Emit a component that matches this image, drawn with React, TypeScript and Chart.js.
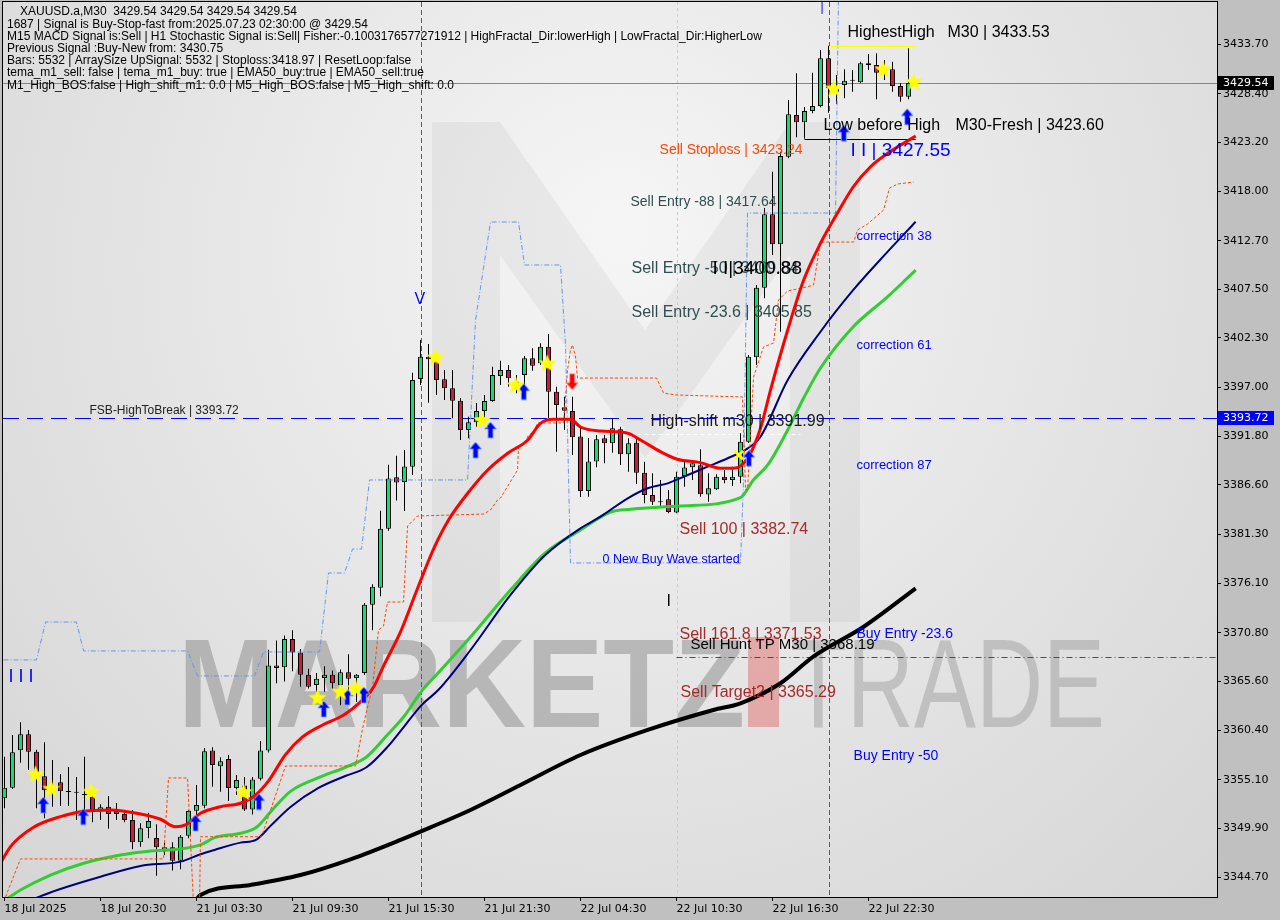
import React, { useEffect, useRef } from 'react';
import { Chart, registerables } from 'chart.js';

Chart.register(...registerables);

// ---------------- data ----------------
const xTickIndex = [0, 12, 24, 36, 48, 60, 72, 84, 96, 108];
const xTickLabels = ['18 Jul 2025', '18 Jul 20:30', '21 Jul 03:30', '21 Jul 09:30', '21 Jul 15:30', '21 Jul 21:30', '22 Jul 04:30', '22 Jul 10:30', '22 Jul 16:30', '22 Jul 22:30'];
const yTickValues = [3344.70, 3349.90, 3355.10, 3360.40, 3365.60, 3370.80, 3376.10, 3381.30, 3386.60, 3391.80, 3397.00, 3402.30, 3407.50, 3412.70, 3418.00, 3423.20, 3428.40, 3433.70];

const opens = [
  3353.12, 3354.25, 3358.25, 3359.96, 3358.10, 3355.47, 3353.80, 3354.83, 3353.85, 3353.74,
  3353.52, 3353.29, 3351.79, 3352.22, 3351.79, 3351.44, 3350.80, 3348.42, 3349.94, 3348.88,
  3347.60, 3347.88, 3346.45, 3349.12, 3351.79, 3352.33, 3358.22, 3356.54, 3357.32, 3354.22,
  3354.48, 3351.92, 3355.20, 3358.22, 3367.31, 3367.13, 3370.15, 3368.70, 3366.33, 3365.23,
  3365.96, 3366.33, 3365.23, 3366.58, 3365.96, 3366.51, 3373.80, 3375.62, 3381.93, 3387.41,
  3386.92, 3388.55, 3397.93, 3400.30, 3400.02, 3397.89, 3396.92, 3395.60, 3392.47, 3393.29,
  3394.50, 3395.57, 3398.24, 3398.88, 3397.63, 3398.34, 3400.13, 3399.59, 3401.37, 3396.56,
  3394.89, 3394.50, 3391.77, 3385.95, 3389.10, 3391.58, 3391.05, 3392.54, 3389.87, 3391.11,
  3387.91, 3385.52, 3384.80, 3385.07, 3383.65, 3387.55, 3388.48, 3388.70, 3385.58, 3386.13,
  3387.48, 3387.13, 3387.48, 3391.22, 3400.24, 3407.67, 3415.51, 3412.31, 3421.67, 3426.12,
  3425.34, 3426.55, 3427.08, 3432.18, 3428.60, 3429.33, 3429.80, 3429.62, 3431.65, 3431.47,
  3430.72, 3431.01, 3429.22, 3428.08,
];
const highs = [
  3357.56, 3359.88, 3361.24, 3360.42, 3358.30, 3359.10, 3357.21, 3355.72, 3356.46, 3355.40,
  3357.56, 3354.22, 3352.48, 3353.37, 3352.62, 3351.87, 3351.87, 3350.45, 3351.58, 3350.34,
  3348.42, 3348.42, 3349.20, 3351.87, 3354.54, 3358.49, 3358.57, 3357.50, 3357.75, 3355.61,
  3355.40, 3355.40, 3359.24, 3368.98, 3369.97, 3370.51, 3371.07, 3369.07, 3366.95, 3366.51,
  3367.23, 3366.76, 3366.87, 3368.51, 3366.40, 3373.98, 3375.98, 3383.83, 3388.75, 3389.73,
  3390.33, 3398.59, 3402.09, 3401.66, 3400.70, 3398.88, 3398.88, 3395.89, 3393.89, 3395.35,
  3396.21, 3399.23, 3399.87, 3399.41, 3398.34, 3400.37, 3401.20, 3401.73, 3402.73, 3397.10,
  3396.03, 3396.03, 3392.82, 3391.61, 3391.93, 3391.93, 3393.72, 3392.82, 3391.58, 3391.58,
  3389.08, 3387.84, 3387.13, 3386.06, 3388.01, 3389.08, 3389.26, 3390.41, 3387.84, 3387.73,
  3388.19, 3388.55, 3392.12, 3400.48, 3407.96, 3416.19, 3420.07, 3422.20, 3427.73, 3430.58,
  3426.98, 3430.64, 3433.07, 3433.53, 3430.40, 3431.01, 3430.93, 3431.82, 3432.64, 3432.72,
  3432.00, 3431.82, 3429.54, 3433.25,
];
const lows = [
  3352.05, 3354.11, 3356.92, 3356.14, 3352.05, 3350.98, 3352.22, 3352.30, 3352.30, 3350.80,
  3350.80, 3350.56, 3350.80, 3349.87, 3350.80, 3350.56, 3347.67, 3347.95, 3348.85, 3344.85,
  3347.06, 3345.39, 3345.54, 3348.85, 3349.73, 3352.05, 3354.36, 3353.82, 3352.83, 3353.47,
  3351.76, 3351.38, 3355.02, 3358.01, 3365.42, 3365.60, 3366.69, 3365.04, 3364.86, 3364.50,
  3364.50, 3364.86, 3363.05, 3363.77, 3363.41, 3366.30, 3371.07, 3374.71, 3381.71, 3384.93,
  3383.82, 3387.66, 3397.28, 3395.39, 3396.21, 3395.67, 3393.72, 3391.40, 3391.58, 3392.82,
  3393.72, 3395.49, 3397.28, 3397.10, 3396.39, 3397.10, 3398.80, 3399.41, 3393.72, 3390.15,
  3392.47, 3389.80, 3385.31, 3385.34, 3388.48, 3388.91, 3390.04, 3388.73, 3388.01, 3386.70,
  3384.64, 3384.45, 3384.35, 3383.57, 3383.57, 3386.41, 3387.13, 3385.34, 3384.81, 3386.06,
  3386.77, 3386.49, 3386.77, 3391.08, 3399.41, 3406.54, 3411.17, 3402.97, 3421.50, 3423.74,
  3423.60, 3426.30, 3426.95, 3426.37, 3427.30, 3427.91, 3428.61, 3429.51, 3430.93, 3427.80,
  3429.86, 3428.61, 3427.54, 3427.80,
];
const closes = [
  3354.25, 3358.03, 3359.96, 3358.10, 3355.61, 3353.97, 3354.20, 3353.87, 3353.80, 3353.70,
  3353.48, 3351.76, 3352.16, 3351.44, 3351.44, 3350.80, 3348.42, 3349.91, 3350.69, 3347.88,
  3347.88, 3346.45, 3349.02, 3351.76, 3352.40, 3358.14, 3356.68, 3357.07, 3354.22, 3355.07,
  3351.92, 3355.13, 3358.22, 3367.31, 3367.05, 3370.15, 3368.70, 3366.33, 3365.04, 3365.89,
  3366.33, 3365.42, 3366.58, 3365.89, 3366.33, 3373.80, 3375.73, 3381.93, 3387.29, 3386.85,
  3388.57, 3397.81, 3400.30, 3400.02, 3397.81, 3396.92, 3395.60, 3392.47, 3393.29, 3394.50,
  3395.57, 3398.34, 3398.88, 3397.99, 3397.10, 3400.13, 3399.34, 3401.37, 3396.56, 3395.14,
  3394.53, 3391.69, 3385.95, 3389.10, 3391.47, 3391.05, 3392.65, 3389.87, 3391.05, 3387.91,
  3385.52, 3384.81, 3384.76, 3383.71, 3387.48, 3388.46, 3388.91, 3385.60, 3386.24, 3387.48,
  3387.13, 3387.48, 3391.22, 3400.30, 3407.67, 3415.51, 3412.31, 3421.74, 3426.20, 3425.34,
  3426.55, 3427.08, 3432.18, 3428.98, 3429.00, 3429.79, 3429.78, 3431.65, 3431.47, 3430.64,
  3431.15, 3429.22, 3428.08, 3429.54,
];

// indicator lines (bar index, price)
const emaRedIdx = [-0.5, 0.75, 3.63, 7, 9.5, 13.25, 17, 19.5, 21.38, 22.63, 24.5, 27, 29.5, 31.4, 33, 35.1, 37.25, 39.75, 42.4, 44.5, 46.1, 47.4, 49.5, 51.6, 53.75, 55.5, 57.9, 60.4, 62.9, 65.4, 67, 68.6, 70.75, 72, 74.5, 77.9, 79.5, 82, 84.1, 87, 89.5, 91.1, 92.9, 94.5, 95.75, 97.9, 99.9, 102, 104.1, 106.1, 108.25, 110.4, 113.9];
const emaRedVal = [3346.18, 3347.95, 3350.02, 3351.16, 3351.69, 3351.87, 3351.44, 3350.88, 3350.08, 3350.27, 3351.52, 3352.22, 3352.59, 3353.47, 3354.97, 3357.75, 3359.67, 3360.95, 3362.02, 3363.41, 3364.95, 3367.30, 3370.89, 3375.48, 3379.97, 3382.85, 3385.71, 3388.19, 3389.98, 3391.40, 3393.18, 3393.61, 3393.61, 3392.79, 3392.36, 3392.12, 3391.40, 3390.15, 3389.34, 3388.98, 3388.38, 3388.38, 3389.45, 3392.65, 3396.74, 3403.15, 3408.49, 3412.42, 3415.62, 3418.46, 3420.60, 3422.03, 3423.88];

const emaNavyIdx = [3.25, 6.6, 12, 17, 22, 24.5, 26.25, 29.5, 31.5, 33.25, 35.75, 39.25, 42.6, 45.25, 47.9, 50, 52.1, 54.25, 58.25, 63.25, 67.6, 72, 74.5, 77.9, 80.4, 82.9, 85.4, 87.9, 90.4, 92.9, 94.5, 97.9, 102, 106.1, 110.4, 113.9];
const emaNavyVal = [3342.25, 3343.32, 3344.74, 3345.89, 3346.35, 3347.14, 3347.60, 3348.38, 3348.71, 3350.17, 3352.19, 3354.22, 3355.50, 3356.43, 3358.63, 3360.84, 3363.05, 3364.71, 3368.96, 3374.84, 3379.11, 3381.97, 3383.21, 3385.17, 3386.24, 3386.77, 3387.66, 3388.55, 3389.45, 3390.51, 3391.75, 3397.81, 3402.97, 3407.43, 3411.52, 3414.72];

const emaGreenIdx = [0.1, 2, 5.75, 9.9, 14.5, 18.25, 22, 24.5, 26.25, 29.5, 31.5, 33.25, 35.75, 39.25, 42.6, 45.25, 47.9, 50, 52.1, 54.25, 58.25, 63.25, 67.6, 72, 75.75, 78.25, 84.5, 92, 93.6, 95.4, 97.9, 99.9, 102, 106.1, 110.4, 113.9];
const emaGreenVal = [3342.25, 3343.32, 3344.92, 3346.18, 3347.06, 3347.49, 3347.70, 3348.13, 3348.91, 3349.38, 3350.02, 3351.66, 3353.86, 3355.32, 3356.43, 3357.53, 3359.93, 3361.94, 3364.52, 3366.55, 3370.35, 3375.37, 3379.33, 3381.79, 3383.71, 3384.00, 3384.35, 3385.24, 3387.13, 3388.73, 3392.47, 3395.89, 3399.09, 3403.50, 3406.71, 3409.56];

const emaBlackIdx = [23.9, 24.5, 30.75, 37, 43.25, 49.5, 53.25, 58.25, 64.5, 72, 80.4, 88.6, 92, 97, 101.1, 107.4, 113.9];
const emaBlackVal = [3342.2, 3342.79, 3343.86, 3344.92, 3346.6, 3348.67, 3350.01, 3351.87, 3354.54, 3357.74, 3360.42, 3362.55, 3363.27, 3365.41, 3368.25, 3371.45, 3375.55];

const trailIdx = [0.13, 2.0, 19.88, 20.5, 22.88, 23.63, 24.38, 24.5, 32.13, 35.13, 43.88, 44.75, 45.38, 46.0, 46.75, 47.38, 47.88, 49.88, 50.38, 51.63, 59.88, 60.75, 61.63, 62.0, 64.13, 64.25, 64.88, 65.5, 66.13, 66.63, 69.88, 70.38, 70.75, 71.0, 71.38, 71.63, 81.5, 82.38, 83.88, 92.25, 92.63, 92.88, 93.63, 94.88, 96.13, 96.75, 97.88, 100.25, 101.13, 102.0, 106.13, 106.63, 107.88, 109.88, 110.63, 111.63, 113.63];
const trailVal = [3342.57, 3346.64, 3346.64, 3355.29, 3355.29, 3341.72, 3341.72, 3349.01, 3349.01, 3356.57, 3356.57, 3360.52, 3362.87, 3364.90, 3371.10, 3371.53, 3374.09, 3374.09, 3382.21, 3383.28, 3383.49, 3383.92, 3384.99, 3385.20, 3388.19, 3390.65, 3390.87, 3391.93, 3392.25, 3393.22, 3393.22, 3398.88, 3401.02, 3401.55, 3400.27, 3398.02, 3398.02, 3396.42, 3396.21, 3396.00, 3386.06, 3386.06, 3398.13, 3401.34, 3401.76, 3406.36, 3407.32, 3407.75, 3407.96, 3412.55, 3412.55, 3413.84, 3414.48, 3415.97, 3418.32, 3418.75, 3418.97];

const channelIdx = [-0.13, 4.0, 5.13, 9.0, 9.88, 22.88, 24.13, 31.25, 32.38, 39.38, 40.5, 42.5, 43.5, 44.63, 45.63, 57.88, 58.88, 60.75, 64.25, 65.0, 69.5, 70.13, 70.75, 92.0, 92.38, 92.88, 103.88, 104.25];
const channelVal = [3367.90, 3367.90, 3371.95, 3371.95, 3368.86, 3368.86, 3366.19, 3366.19, 3368.75, 3368.75, 3377.19, 3377.19, 3379.75, 3379.75, 3387.13, 3387.13, 3404.22, 3414.69, 3414.69, 3410.10, 3410.10, 3401.55, 3378.26, 3378.26, 3387.13, 3415.65, 3415.65, 3438.94];

const starIdx = [3.88, 5.84, 10.84, 29.88, 39.13, 42.0, 43.88, 53.88, 59.71, 63.88, 67.84, 103.66, 109.84, 113.66];
const starVal = [3355.68, 3354.15, 3353.83, 3353.79, 3363.86, 3364.52, 3364.89, 3400.24, 3393.54, 3397.28, 3399.59, 3428.98, 3431.01, 3429.68];
const upArrowIdx = [4.84, 9.84, 23.88, 31.79, 39.91, 42.84, 44.91, 58.88, 60.75, 64.91, 93.04, 104.91, 112.84];
const upArrowVal = [3352.40, 3351.15, 3350.48, 3352.76, 3362.66, 3363.94, 3364.16, 3390.33, 3392.47, 3396.56, 3389.45, 3424.17, 3425.94];
const downArrowIdx = [70.96];
const downArrowVal = [3397.63];
const crossIdx = [91.79];
const crossVal = [3389.80];

// levels
const fsbLevel = 3393.72;
const currentPrice = 3429.54;
const huntTp = 3368.19;
const highShift = 3391.99;
const highestHigh = 3433.53;
const lowBeforeHigh = 3423.60;
const signalBars = [52, 103];
const sessionBar = 84;

const headerLines = [
  'XAUUSD.a,M30  3429.54 3429.54 3429.54 3429.54',
  '1687 | Signal is Buy-Stop-fast from:2025.07.23 02:30:00 @ 3429.54',
  'M15 MACD Signal is:Sell | H1 Stochastic Signal is:Sell| Fisher:-0.1003176577271912 | HighFractal_Dir:lowerHigh | LowFractal_Dir:HigherLow',
  'Previous Signal :Buy-New from: 3430.75',
  'Bars: 5532 | ArraySize UpSignal: 5532 | Stoploss:3418.97 | ResetLoop:false',
  'tema_m1_sell: false | tema_m1_buy: true | EMA50_buy:true | EMA50_sell:true',
  'M1_High_BOS:false | High_shift_m1: 0.0 | M5_High_BOS:false | M5_High_shift: 0.0',
];

const noteTexts = ['HighestHigh', 'M30 | 3433.53', 'Low before High', 'M30-Fresh | 3423.60', 'I I | 3427.55', 'Sell Stoploss | 3423.24', 'Sell Entry -88 | 3417.64', 'Sell Entry -50 | 3409.84', 'I I|3400.88', 'Sell Entry -23.6 | 3405.85', 'High-shift m30 | 3391.99', 'Sell 100 | 3382.74', '0 New Buy Wave started', 'I', 'Sell 161.8 | 3371.53', 'Sell Hunt TP M30 | 3368.19', 'Sell Target2 | 3365.29', 'correction 38', 'correction 61', 'correction 87', 'Buy Entry -23.6', 'Buy Entry -50', 'FSB-HighToBreak | 3393.72', 'V', 'I I I', '|'];
const noteIdx = [105.38, 117.88, 102.38, 118.88, 105.75, 81.88, 78.25, 78.38, 88.5, 78.38, 80.75, 84.38, 74.75, 82.75, 84.38, 85.75, 84.5, 106.5, 106.5, 106.5, 106.5, 106.13, 10.63, 51.25, 0.5, 102.0];
const notePrice = [3434.88, 3434.88, 3424.95, 3424.95, 3422.28, 3422.38, 3416.83, 3409.67, 3409.67, 3404.97, 3393.32, 3381.78, 3378.58, 3374.09, 3370.57, 3369.50, 3364.37, 3413.20, 3401.55, 3388.73, 3370.67, 3357.64, 3394.50, 3406.36, 3366.08, 3437.6];

// styles (kept separate from data)
const noteColor = ['#000', '#000', '#000', '#000', '#0000ff', '#ff4500', '#2f4f4f', '#2f4f4f', '#000', '#2f4f4f', '#1a1a1a', '#a52a2a', '#0000ff', '#000', '#a52a2a', '#000', '#a52a2a', '#0000ff', '#0000ff', '#0000ff', '#0000ff', '#0000ff', '#222', '#0000ff', '#0000ff', '#0000ff'];
const noteSize = [16, 16, 16, 16, 19, 14, 14, 16, 19, 16, 16, 16, 12.5, 16, 16, 15, 16, 13, 13, 13, 14, 14, 12, 16, 18, 12];

const FONT = '"Liberation Sans", Arial, sans-serif';
const AXFONT = '"DejaVu Sans", Verdana, sans-serif';
const BULL = '#00e676';
const BEAR = '#dc143c';

const pts = (xs: number[], ys: number[]) => xs.map((x, k) => ({ x, y: ys[k] }));

function makeStar(): HTMLCanvasElement {
  const c = document.createElement('canvas');
  c.width = 20; c.height = 20;
  const g = c.getContext('2d')!;
  g.beginPath();
  for (let k = 0; k < 10; k++) {
    const r = k % 2 === 0 ? 9.5 : 4;
    const a = -Math.PI / 2 + (k * Math.PI) / 5;
    g.lineTo(10 + r * Math.cos(a), 10.5 + r * Math.sin(a));
  }
  g.closePath();
  g.fillStyle = '#ffff00';
  g.fill();
  return c;
}

function makeArrow(fill: string, edge: string, up: boolean): HTMLCanvasElement {
  const c = document.createElement('canvas');
  c.width = 14; c.height = 18;
  const g = c.getContext('2d')!;
  if (!up) { g.translate(0, 18); g.scale(1, -1); }
  g.beginPath();
  g.moveTo(7, 1); g.lineTo(13, 8); g.lineTo(9.5, 8); g.lineTo(9.5, 17); g.lineTo(4.5, 17); g.lineTo(4.5, 8); g.lineTo(1, 8);
  g.closePath();
  g.fillStyle = fill; g.fill();
  g.strokeStyle = edge; g.lineWidth = 1; g.stroke();
  return c;
}

export default function App() {
  const ref = useRef<HTMLCanvasElement | null>(null);

  useEffect(() => {
    document.body.style.margin = '0';
    const canvas = ref.current;
    if (!canvas) return;

    const star = makeStar();
    const upArrow = makeArrow('#0000ff', 'rgba(120,170,255,0.9)', true);
    const downArrow = makeArrow('#ff0000', 'rgba(255,150,150,0.9)', false);

    const wickData = lows.map((l, i) => ({ x: i, y: [l, highs[i]] }));
    const bodyData = opens.map((o, i) => ({ x: i, y: [o, closes[i]] }));
    const bodyColors = opens.map((o, i) => (closes[i] > o ? BULL : BEAR));

    const decor = {
      id: 'decor',
      beforeDraw(chart: any) {
        const { ctx, chartArea: a } = chart;
        ctx.save();
        ctx.fillStyle = '#c0c0c0';
        ctx.fillRect(0, 0, chart.width, chart.height);
        const g = ctx.createRadialGradient(620, 230, 20, 620, 300, 950);
        g.addColorStop(0, '#f5f5f5');
        g.addColorStop(1, '#d2d2d2');
        ctx.fillStyle = g;
        ctx.fillRect(a.left, a.top, a.right - a.left, a.bottom - a.top);
        ctx.restore();
      },
      beforeDatasetsDraw(chart: any) {
        const { ctx, chartArea: a, scales } = chart;
        const xs = scales.x, ys = scales.y;
        ctx.save();
        ctx.beginPath();
        ctx.rect(a.left, a.top, a.right - a.left, a.bottom - a.top);
        ctx.clip();

        // faint M logo
        ctx.fillStyle = 'rgba(150,150,150,0.11)';
        ctx.beginPath();
        const m = [[432, 122], [500, 122], [645, 330], [790, 122], [860, 122], [860, 622], [790, 622], [790, 255], [645, 458], [500, 255], [500, 622], [432, 622]];
        m.forEach(([px, py], k) => (k ? ctx.lineTo(px, py) : ctx.moveTo(px, py)));
        ctx.closePath();
        ctx.fill();

        // watermark text
        const fit = (t: string, x: number, base: number, w: number, font: string, col: string) => {
          ctx.font = font;
          const mw = ctx.measureText(t).width;
          ctx.save();
          ctx.translate(x, base);
          ctx.scale(w / mw, 1);
          ctx.fillStyle = col;
          ctx.textBaseline = 'alphabetic';
          ctx.fillText(t, 0, 0);
          ctx.restore();
        };
        fit('MARKETZ', 178, 727, 567, `bold 126px ${FONT}`, 'rgba(120,120,120,0.42)');
        ctx.fillStyle = 'rgba(225,110,110,0.5)';
        ctx.fillRect(748, 637, 31, 90);
        fit('TRADE', 790, 727, 315, `126px ${FONT}`, 'rgba(150,150,150,0.45)');

        const hLine = (p: number, i0: number | null, i1: number | null, color: string, dash: number[], w: number) => {
          const y = Math.round(ys.getPixelForValue(p)) + 0.5;
          const x0 = i0 === null ? a.left : xs.getPixelForValue(i0);
          const x1 = i1 === null ? a.right : xs.getPixelForValue(i1);
          ctx.beginPath();
          ctx.setLineDash(dash);
          ctx.strokeStyle = color;
          ctx.lineWidth = w;
          ctx.moveTo(x0, y); ctx.lineTo(x1, y);
          ctx.stroke();
        };
        const vLine = (i: number, color: string, dash: number[]) => {
          const x = Math.round(xs.getPixelForValue(i)) + 0.5;
          ctx.beginPath();
          ctx.setLineDash(dash);
          ctx.strokeStyle = color;
          ctx.lineWidth = 1;
          ctx.moveTo(x, a.top); ctx.lineTo(x, a.bottom);
          ctx.stroke();
        };
        signalBars.forEach((b) => vLine(b, '#e0109a', [5, 3]));
        vLine(sessionBar, '#a8d8e8', [3, 3]);
        hLine(currentPrice, null, null, '#7a8a99', [], 1);
        hLine(fsbLevel, null, null, '#0000ff', [16, 8], 1);
        hLine(huntTp, sessionBar, null, '#b22222', [6, 3, 1, 3], 1);
        hLine(highShift, 78.25, 99.5, '#ffffff', [4, 3], 1);
        hLine(highestHigh, 102.9, 113.9, '#ffff00', [], 1);
        hLine(lowBeforeHigh, 100, 113.9, '#000000', [], 1);
        ctx.restore();
      },
      afterDatasetsDraw(chart: any) {
        const { ctx, chartArea: a, scales } = chart;
        ctx.save();
        ctx.beginPath();
        ctx.rect(a.left, a.top, a.right - a.left, a.bottom - a.top);
        ctx.clip();
        ctx.textBaseline = 'middle';
        ctx.textAlign = 'left';
        noteTexts.forEach((t, k) => {
          ctx.font = `${noteSize[k]}px ${FONT}`;
          ctx.fillStyle = noteColor[k];
          ctx.fillText(t, scales.x.getPixelForValue(noteIdx[k]), scales.y.getPixelForValue(notePrice[k]));
        });
        ctx.restore();
      },
      afterDraw(chart: any) {
        const { ctx, chartArea: a, scales } = chart;
        ctx.save();
        // header
        ctx.font = `12px ${FONT}`;
        ctx.fillStyle = '#000';
        ctx.textBaseline = 'middle';
        ctx.textAlign = 'left';
        headerLines.forEach((t, k) => ctx.fillText(t, k === 0 ? 20 : 7, 12 + k * 12.2));
        // price tags
        const tag = (p: number, bg: string) => {
          const y = Math.round(scales.y.getPixelForValue(p));
          ctx.fillStyle = bg;
          ctx.fillRect(a.right + 1, y - 7, 56, 14);
          ctx.fillStyle = '#fff';
          ctx.font = `11px ${AXFONT}`;
          ctx.fillText(p.toFixed(2), a.right + 6, y + 0.5);
        };
        tag(currentPrice, '#000000');
        tag(fsbLevel, '#0000ff');
        // frame
        ctx.strokeStyle = '#000';
        ctx.lineWidth = 1;
        ctx.setLineDash([]);
        ctx.strokeRect(a.left - 0.5, a.top - 0.5, a.right - a.left + 1, a.bottom - a.top + 1);
        ctx.restore();
      },
    };

    const lineBase = { type: 'line' as const, pointRadius: 0, pointHoverRadius: 0, fill: false };

    const chart = new Chart(canvas, {
      type: 'bar',
      data: {
        datasets: [
          { type: 'bar', data: wickData as any, backgroundColor: '#000', borderWidth: 0, barThickness: 1, grouped: false, inflateAmount: 0, order: 11 } as any,
          { type: 'bar', data: bodyData as any, backgroundColor: bodyColors, borderColor: '#000', borderWidth: 1, borderSkipped: false, barThickness: 5, minBarLength: 1, grouped: false, inflateAmount: 0, order: 10 } as any,
          { ...lineBase, data: pts(emaBlackIdx, emaBlackVal), borderColor: '#000000', borderWidth: 4, cubicInterpolationMode: 'monotone', order: 6 },
          { ...lineBase, data: pts(emaGreenIdx, emaGreenVal), borderColor: '#32cd32', borderWidth: 3, cubicInterpolationMode: 'monotone', order: 5 },
          { ...lineBase, data: pts(emaNavyIdx, emaNavyVal), borderColor: '#000080', borderWidth: 2, cubicInterpolationMode: 'monotone', order: 4 },
          { ...lineBase, data: pts(trailIdx, trailVal), borderColor: '#ff4500', borderWidth: 1, borderDash: [3, 2], tension: 0, order: 3 },
          { ...lineBase, data: pts(channelIdx, channelVal), borderColor: '#6495ed', borderWidth: 1, borderDash: [5, 2, 1, 2], tension: 0, order: 3 },
          { ...lineBase, data: pts(emaRedIdx, emaRedVal), borderColor: '#ff0000', borderWidth: 3, cubicInterpolationMode: 'monotone', order: 2 },
          { type: 'line', data: pts(starIdx, starVal), showLine: false, pointStyle: star, pointRadius: 10, order: 0 } as any,
          { type: 'line', data: pts(upArrowIdx, upArrowVal), showLine: false, pointStyle: upArrow, pointRadius: 9, order: 0 } as any,
          { type: 'line', data: pts(downArrowIdx, downArrowVal), showLine: false, pointStyle: downArrow, pointRadius: 9, order: 0 } as any,
          { type: 'line', data: pts(crossIdx, crossVal), showLine: false, pointStyle: 'crossRot', pointRadius: 6, borderColor: '#ffff00', borderWidth: 3, order: 0 } as any,
        ] as any,
      },
      options: {
        animation: false,
        responsive: false,
        maintainAspectRatio: false,
        events: [],
        layout: { autoPadding: false, padding: { left: 3, top: 2, right: 0, bottom: 0 } },
        plugins: { legend: { display: false }, tooltip: { enabled: false } },
        scales: {
          x: {
            type: 'linear',
            min: -0.1875,
            max: 151.5625,
            offset: false,
            afterBuildTicks: (s: any) => { s.ticks = xTickIndex.map((v) => ({ value: v })); },
            afterFit: (s: any) => { s.height = 23; s.paddingLeft = 0; s.paddingRight = 0; },
            ticks: {
              autoSkip: false,
              maxRotation: 0,
              align: 'start',
              padding: 2,
              color: '#000',
              font: { family: AXFONT, size: 11 },
              callback: (v: any) => { const k = xTickIndex.indexOf(Number(v)); return k >= 0 ? xTickLabels[k] : ''; },
            },
            grid: { display: true, drawOnChartArea: false, drawTicks: true, tickLength: 4, color: '#000', offset: false },
            border: { display: true, color: '#000' },
          } as any,
          y: {
            type: 'linear',
            position: 'right',
            min: 3342.57,
            max: 3438.20,
            afterBuildTicks: (s: any) => { s.ticks = yTickValues.map((v) => ({ value: v })); },
            afterFit: (s: any) => { s.width = 63; s.paddingTop = 0; s.paddingBottom = 0; },
            ticks: {
              autoSkip: false,
              padding: 2,
              color: '#000',
              font: { family: AXFONT, size: 11 },
              callback: (v: any) => Number(v).toFixed(2),
            },
            grid: { display: true, drawOnChartArea: false, drawTicks: true, tickLength: 4, color: '#000' },
            border: { display: true, color: '#000' },
          } as any,
        },
      },
      plugins: [decor],
    });

    return () => chart.destroy();
  }, []);

  return (
    <div style={{ width: 1280, height: 920, background: '#c0c0c0' }}>
      <canvas ref={ref} width={1280} height={920} style={{ display: 'block', width: 1280, height: 920 }} />
    </div>
  );
}
